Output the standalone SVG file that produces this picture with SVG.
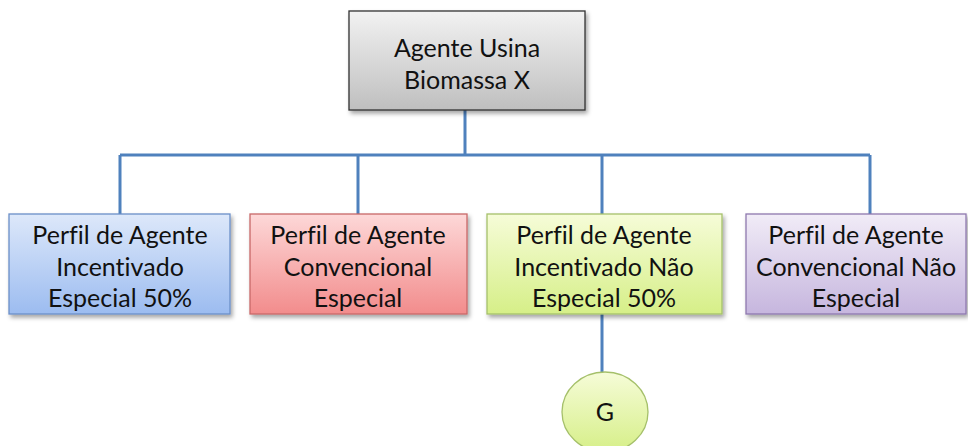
<svg xmlns="http://www.w3.org/2000/svg" width="968" height="446" viewBox="0 0 968 446">
<defs>
<linearGradient id="gGray" x1="0" y1="0" x2="0" y2="1"><stop offset="0" stop-color="#f2f2f2"/><stop offset="1" stop-color="#bfbfbf"/></linearGradient>
<linearGradient id="gBlue" x1="0" y1="0" x2="0" y2="1"><stop offset="0" stop-color="#dde8fa"/><stop offset="1" stop-color="#9cbcf0"/></linearGradient>
<linearGradient id="gRed" x1="0" y1="0" x2="0" y2="1"><stop offset="0" stop-color="#fdd8d8"/><stop offset="1" stop-color="#f28c8c"/></linearGradient>
<linearGradient id="gGreen" x1="0" y1="0" x2="0" y2="1"><stop offset="0" stop-color="#f6fcd8"/><stop offset="1" stop-color="#d6ef88"/></linearGradient>
<linearGradient id="gPurple" x1="0" y1="0" x2="0" y2="1"><stop offset="0" stop-color="#f1ecf7"/><stop offset="1" stop-color="#c6b6de"/></linearGradient>
<filter id="sh" x="-10%" y="-10%" width="130%" height="130%"><feDropShadow dx="2" dy="3" stdDeviation="2" flood-color="#000" flood-opacity="0.35"/></filter>
</defs>
<style>
text{font-family:Lato,"Open Sans","Liberation Sans",sans-serif;font-size:25px;fill:#111;text-anchor:middle;font-variant-ligatures:none}
.c{stroke:#4f81bd;stroke-width:3;fill:none}
.b{stroke-width:1.3;filter:url(#sh)}
</style>
<rect width="968" height="446" fill="#fff"/>
<g id="connectors">
<path class="c" d="M465 110V155M120 155H870M120 155V214M358 155V214M602 155V214M870 155V214M602 314V372"/>
</g>
<g id="root">
<rect class="b" x="349" y="11" width="236" height="99" fill="url(#gGray)" stroke="#333"/>
<text x="467" y="57">Agente Usina</text>
<text x="467" y="89">Biomassa X</text>
</g>
<g id="n1">
<rect class="b" x="9" y="214" width="221" height="100" fill="url(#gBlue)" stroke="#6a8fc8"/>
<text x="120" y="244">Perfil de Agente</text>
<text x="120" y="276">Incentivado</text>
<text x="120" y="307">Especial 50%</text>
</g>
<g id="n2">
<rect class="b" x="250" y="214" width="217" height="100" fill="url(#gRed)" stroke="#c86868"/>
<text x="358" y="244">Perfil de Agente</text>
<text x="358" y="276">Convencional</text>
<text x="358" y="307">Especial</text>
</g>
<g id="n3">
<rect class="b" x="487" y="214" width="235" height="100" fill="url(#gGreen)" stroke="#a5c06a"/>
<text x="604" y="244">Perfil de Agente</text>
<text x="604" y="276">Incentivado Não</text>
<text x="604" y="307">Especial 50%</text>
</g>
<g id="n4">
<rect class="b" x="746" y="214" width="220" height="100" fill="url(#gPurple)" stroke="#8e78ae"/>
<text x="856" y="244">Perfil de Agente</text>
<text x="856" y="276">Convencional Não</text>
<text x="856" y="307">Especial</text>
</g>
<g id="g">
<ellipse cx="605" cy="412" rx="43" ry="40" fill="url(#gGreen)" stroke="#a5c06a" stroke-width="1.3"/>
<text x="605" y="421">G</text>
</g>
</svg>
